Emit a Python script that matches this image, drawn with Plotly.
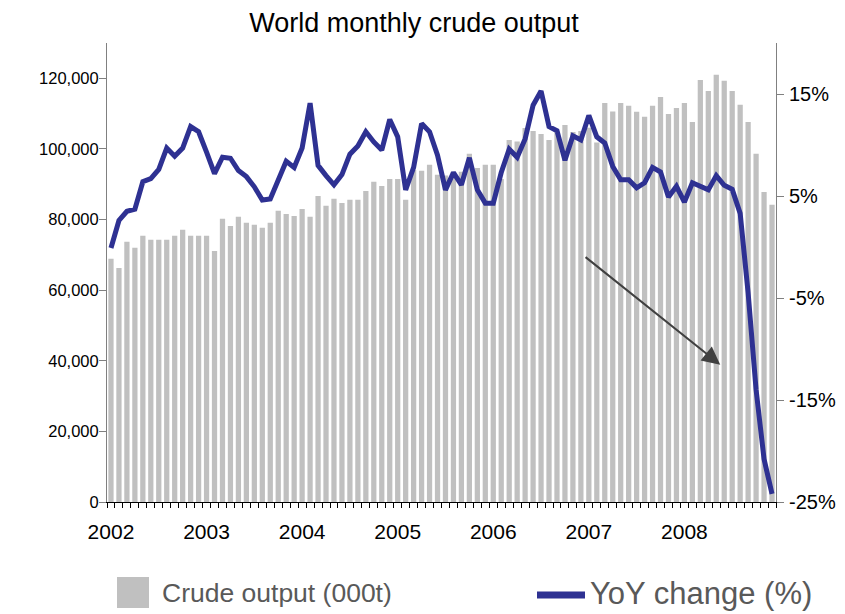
import plotly.graph_objects as go

# ---- data ----
years = ["2002", "2003", "2004", "2005", "2006", "2007", "2008"]

# world crude output, thousand tonnes, Jan 2002 .. Dec 2008
output_kt = [
    68900, 66300, 73700, 72000, 75400, 74300, 74300, 74300, 75400, 77100, 75400, 75400,
    75400, 71100, 80200, 78200, 80800, 79100, 78500, 77700, 79100, 82500, 81600, 81000,
    83000, 80800, 86700, 83900, 85900, 84700, 85600, 85600, 88100, 90700, 89500, 91500,
    91500, 85600, 94000, 93800, 95500, 92700, 92500, 93500, 93500, 98600, 94600, 95500,
    95500, 91500, 102500, 102100, 105900, 105100, 104200, 102500, 105000, 106800, 104800, 105100,
    106000, 101800, 113000, 110600, 113000, 112200, 110500, 109100, 112200, 114700, 109900, 111600,
    113000, 107600, 119500, 116400, 121000, 119300, 116400, 112500, 107600, 98600, 87800, 84200,
]

# year-on-year change, %
yoy_pct = [
    -0.1, 2.6, 3.5, 3.7, 6.4, 6.7, 7.6, 9.7, 8.9, 9.7, 11.8, 11.3,
    9.3, 7.2, 8.8, 8.7, 7.5, 6.9, 5.9, 4.6, 4.7, 6.6, 8.4, 7.8,
    9.7, 14.1, 8.0, 7.0, 6.1, 7.1, 9.1, 9.9, 11.3, 10.3, 9.5, 12.5,
    10.8, 5.6, 7.8, 12.1, 11.3, 9.0, 5.6, 7.3, 6.1, 8.75, 5.6, 4.3,
    4.3, 7.3, 9.6, 8.8, 10.6, 13.9, 15.3, 11.8, 11.4, 8.5, 10.9, 10.5,
    12.9, 10.8, 10.2, 7.9, 6.6, 6.6, 5.8, 6.3, 7.8, 7.35, 4.9, 5.95,
    4.4, 6.3, 5.9, 5.6, 7.0, 6.05, 5.65, 3.3, -4.5, -14.0, -20.8, -24.2,
]

left_ticks = [0, 20000, 40000, 60000, 80000, 100000, 120000]
right_ticks = [-25, -15, -5, 5, 15]

months = list(range(len(output_kt)))

# ---- layout constants (pixels of the 845x614 window) ----
W, H = 845, 614
PAGE = 8  # browser body margin
L, R, T, B = 107, 776, 43, 502
FONT = "Liberation Sans, Arial, sans-serif"
BAR_GREY = "#c0c0c0"
LINE_BLUE = "#2e3192"
AXIS_GREY = "#808080"

FW, FH = W - PAGE, H - PAGE


def px(x):
    return (x - L) / (R - L)


def py(y):
    return (B - y) / (B - T)


fig = go.Figure()
fig.add_trace(go.Bar(
    x=months, y=output_kt, name="Crude output (000t)",
    marker_color=BAR_GREY, marker_line_width=0,
))
fig.add_trace(go.Scatter(
    x=months, y=yoy_pct, name="YoY change (%)", yaxis="y2",
    mode="lines", line={"color": LINE_BLUE, "width": 5},
))

fig.update_layout(
    width=FW, height=FH,
    margin=dict(l=L - PAGE, r=FW - (R - PAGE), t=T - PAGE, b=FH - (B - PAGE)),
    paper_bgcolor="white", plot_bgcolor="white",
    showlegend=False,
    bargap=0.34,
    font=dict(family=FONT, size=21, color="black"),
    title=dict(
        text="World monthly crude output",
        x=(414 - PAGE) / FW, xanchor="center", xref="container",
        y=1 - (23 - PAGE) / FH, yanchor="middle", yref="container",
        font=dict(size=27, color="black"),
        automargin=False,
    ),
    xaxis=dict(
        range=[-0.5, len(months) - 0.5],
        automargin=False,
        tickmode="array",
        tickvals=[12 * i for i in range(len(years))],
        ticktext=years,
        ticks="",
        ticklabelstandoff=11,
        tickfont=dict(size=21),
        minor=dict(
            tickmode="array",
            tickvals=[i - 0.5 for i in range(len(months) + 1)],
            ticks="outside", ticklen=5, tickwidth=1, tickcolor="black",
        ),
        showline=True, linecolor="black", linewidth=1,
        showgrid=False, zeroline=False,
    ),
    yaxis=dict(
        range=[0, 130000],
        automargin=False,
        tickmode="array", tickvals=left_ticks, tickformat=",d",
        tickfont=dict(size=16.5),
        ticks="outside", ticklen=7, tickcolor=AXIS_GREY,
        ticklabelstandoff=-3,
        showline=True, linecolor=AXIS_GREY, linewidth=1,
        showgrid=False, zeroline=False,
    ),
    yaxis2=dict(
        overlaying="y", side="right",
        range=[-25, 20],
        automargin=False,
        tickmode="array", tickvals=right_ticks,
        ticktext=[f"{v}%" for v in right_ticks],
        tickfont=dict(size=20),
        ticks="outside", ticklen=7, tickcolor=AXIS_GREY,
        ticklabelstandoff=1,
        showline=True, linecolor=AXIS_GREY, linewidth=1,
        showgrid=False, zeroline=False,
    ),
)

# trend arrow
fig.add_annotation(
    xref="x", yref="y", axref="x", ayref="y",
    x=76.5, y=38900, ax=59.4, ay=69700,
    text="", showarrow=True,
    arrowhead=2, arrowsize=1.8, arrowwidth=2, arrowcolor="#404040",
)

# hand-drawn legend below the plot
fig.add_shape(
    type="rect", xref="paper", yref="paper",
    x0=px(117), x1=px(149), y0=py(608), y1=py(577),
    fillcolor=BAR_GREY, line_width=0,
)
fig.add_annotation(
    xref="paper", yref="paper", x=px(160), y=py(593),
    xanchor="left", yanchor="middle", showarrow=False,
    text="Crude output (000t)", font=dict(size=26.5, color="#595959"),
)
fig.add_shape(
    type="line", xref="paper", yref="paper",
    x0=px(537), x1=px(585), y0=py(595), y1=py(595),
    line=dict(color=LINE_BLUE, width=7),
)
fig.add_annotation(
    xref="paper", yref="paper", x=px(588), y=py(593),
    xanchor="left", yanchor="middle", showarrow=False,
    text="YoY change (%)", font=dict(size=31, color="#595959"),
)

fig.write_html("out.html")
